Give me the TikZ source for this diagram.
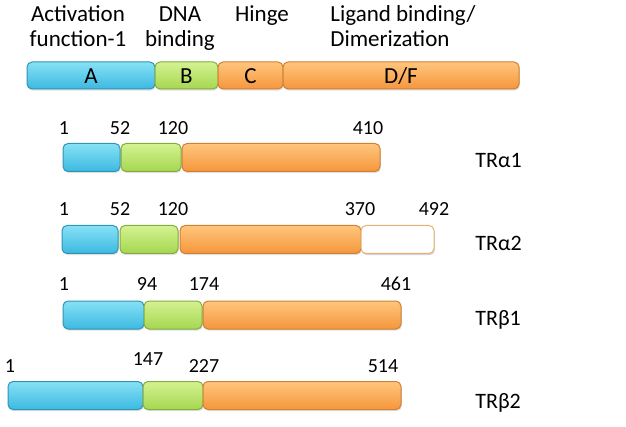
\documentclass[tikz,border=0pt]{standalone}
\usepackage{fontspec}
\setmainfont{Carlito}
\usepackage{tikz}
\usetikzlibrary{shadows}
\definecolor{afblue}   {RGB}{135,225,245}
\definecolor{afbluedk} {RGB}{ 60,185,225}
\definecolor{dbdgreen} {RGB}{212,242,145}
\definecolor{dbdgreendk}{RGB}{165,215, 80}
\definecolor{lbdorange}{RGB}{255,198,125}
\definecolor{lbdorangedk}{RGB}{245,150, 60}
\tikzset{
  seg/.style    ={draw, rounded corners=2.5pt, inner sep=0pt,
                  minimum height=14pt, line width=0.5pt,
                  drop shadow={opacity=0.25, shadow xshift=0.4pt,
                               shadow yshift=-0.8pt}},
  segA/.style   ={seg, top color=afblue, bottom color=afbluedk,
                  draw=afbluedk!80!black, minimum width=#1},
  segB/.style   ={seg, top color=dbdgreen, bottom color=dbdgreendk,
                  draw=dbdgreendk!80!black, minimum width=#1},
  segD/.style   ={seg, top color=lbdorange, bottom color=lbdorangedk,
                  draw=lbdorangedk!85!black, minimum width=#1},
  segX/.style   ={seg, fill=white, draw=lbdorange!90!black,
                  drop shadow={opacity=0.12, shadow xshift=0.4pt,
                               shadow yshift=-0.8pt}, minimum width=#1},
  domlabel/.style={font=\fontsize{11.5}{12.5}\selectfont, inner sep=0pt,
                  anchor=base},
  numlabel/.style={font=\fontsize{10}{12}\selectfont, inner sep=0pt,
                  anchor=base},
  isolabel/.style={font=\fontsize{11}{12}\selectfont, inner sep=0pt,
                  anchor=base west},
}

\begin{document}
\begin{tikzpicture}[x=0.5pt, y=-0.5pt]
  \useasboundingbox (0,0) rectangle (626,427);

  % domain headings (base = last line)
  \node[domlabel, align=center] (hA) at (78,47)  {Activation\\function-1};
  \node[domlabel, align=center] (hB) at (180,47) {DNA\\binding};
  \node[domlabel]               (hC) at (262,22) {Hinge};
  \node[domlabel, align=left, anchor=base west] (hD) at (330,47)
        {Ligand binding/\\Dimerization};

  % domain bar
  \node[segA=64pt,  minimum height=13.5pt] (A)  at (91,75.5)  {};
  \node[segB=31.5pt,minimum height=13.5pt] (B)  at (186.5,75.5) {};
  \node[segD=32.5pt,minimum height=13.5pt] (C)  at (250.5,75.5) {};
  \node[segD=118pt, minimum height=13.5pt] (DF) at (401,75.5) {};
  \node[domlabel] at (91,84)  {A};
  \node[domlabel] at (186.5,84) {B};
  \node[domlabel] at (250.5,84) {C};
  \node[domlabel] at (401,84) {D/F};

  % TRalpha1
  \node[segA=28.5pt] (a1A) at (91.5,157.5) {};
  \node[segB=30pt]   (a1B) at (151,157.5)  {};
  \node[segD=99pt]   (a1D) at (281,157.5)  {};
  \node[numlabel] at (64,135)  {1};
  \node[numlabel] at (120,135) {52};
  \node[numlabel] at (173,135) {120};
  \node[numlabel] at (368,135) {410};
  \node[isolabel] (a1) at (475,168) {TRα1};

  % TRalpha2
  \node[segA=28pt]   (a2A) at (90,239.5)    {};
  \node[segB=29pt]   (a2B) at (149,239.5)   {};
  \node[segD=90.5pt] (a2D) at (270.5,239.5) {};
  \node[segX=36.5pt] (a2X) at (397.5,239.5) {};
  \node[numlabel] at (64,216)  {1};
  \node[numlabel] at (120,216) {52};
  \node[numlabel] at (173,216) {120};
  \node[numlabel] at (360,216) {370};
  \node[numlabel] at (434,216) {492};
  \node[isolabel] (a2) at (475,250) {TRα2};

  % TRbeta1
  \node[segA=40.5pt] (b1A) at (103.5,315) {};
  \node[segB=29pt]   (b1B) at (173,315)   {};
  \node[segD=99pt]   (b1D) at (302,315)   {};
  \node[numlabel] at (64,291)  {1};
  \node[numlabel] at (147,291) {94};
  \node[numlabel] at (204,291) {174};
  \node[numlabel] at (396,291) {461};
  \node[isolabel] (b1) at (475,325) {TRβ1};

  % TRbeta2
  \node[segA=67.5pt] (b2A) at (75.5,395.5) {};
  \node[segB=30pt]   (b2B) at (173,395.5)  {};
  \node[segD=99pt]   (b2D) at (302,395.5)  {};
  \node[numlabel] at (10,372)  {1};
  \node[numlabel] at (148,365) {147};
  \node[numlabel] at (204,372) {227};
  \node[numlabel] at (383,372) {514};
  \node[isolabel] (b2) at (475,408) {TRβ2};
\end{tikzpicture}
\end{document}
